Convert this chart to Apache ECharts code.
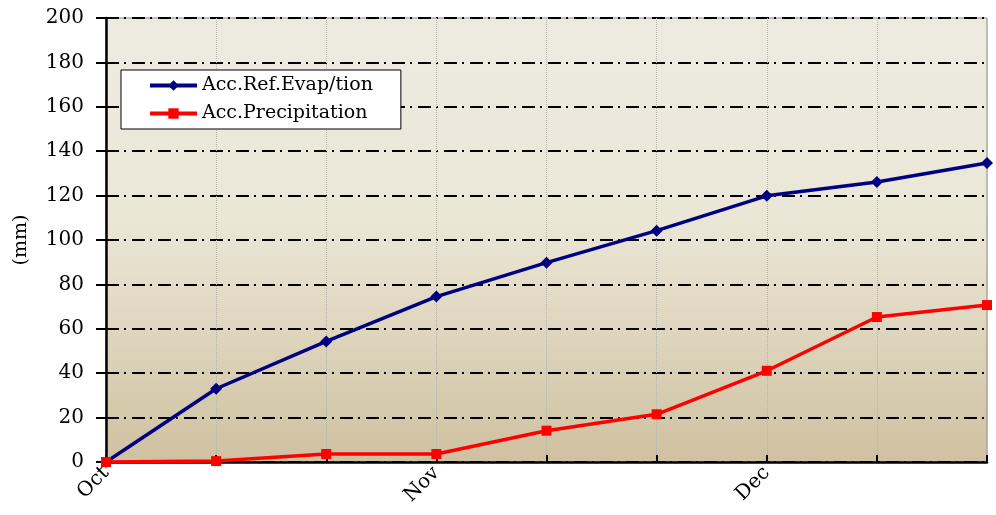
<!DOCTYPE html>
<html><head><meta charset="utf-8">
<script src="https://cdn.jsdelivr.net/npm/echarts@6/dist/echarts.min.js"></script>
<style>html,body{margin:0;padding:0;background:#fff}#c{width:996px;height:515px}</style>
</head><body><div id="c"></div>
<script>
const categories = ['Oct','','','Nov','','','Dec','',''];
const evap = [0, 33, 54.3, 74.5, 89.8, 104.2, 119.9, 126.1, 134.7];
const precip = [0, 0.4, 3.6, 3.6, 14.1, 21.5, 41.1, 65.3, 70.7];
const yTicks = {min: 0, max: 200, interval: 20};
const seriesNames = ['Acc.Ref.Evap/tion', 'Acc.Precipitation'];
const FONT = 'DejaVu Serif';

const chart = echarts.init(document.getElementById('c'));
chart.setOption({
  animation: false,
  textStyle: {fontFamily: FONT},
  grid: {
    left: 106, right: 9, top: 18, bottom: 53,
    show: true,
    borderColor: '#8a8a8a', borderWidth: 1,
    backgroundColor: new echarts.graphic.LinearGradient(0, 0, 0, 1, [
      {offset: 0, color: '#edebe1'},
      {offset: 0.45, color: '#ebe7d7'},
      {offset: 1, color: '#cfc1a0'}
    ])
  },
  legend: {
    orient: 'vertical',
    left: 121, top: 70,
    backgroundColor: '#fff',
    borderColor: '#000', borderWidth: 1,
    padding: [6, 28, 6, 27],
    itemGap: 9,
    itemWidth: 47, itemHeight: 13,
    lineStyle: {width: 4},
    textStyle: {fontFamily: FONT, fontSize: 19, color: '#000'},
    data: seriesNames
  },
  xAxis: {
    type: 'category',
    data: categories,
    boundaryGap: false,
    axisLine: {lineStyle: {color: '#000', width: 2.5}},
    axisTick: {show: true, inside: true, length: 7, interval: 0, lineStyle: {color: '#000', width: 2}},
    axisLabel: {interval: 0, rotate: 45, fontSize: 20, color: '#000', fontFamily: FONT, margin: 8},
    splitLine: {show: true, interval: 0, lineStyle: {color: '#b5b2a6', type: 'dotted', width: 1}}
  },
  yAxis: {
    type: 'value',
    min: yTicks.min, max: yTicks.max, interval: yTicks.interval,
    name: '(mm)',
    nameLocation: 'middle',
    nameGap: 75,
    nameTextStyle: {fontSize: 19, color: '#000', fontFamily: FONT},
    axisLine: {show: true, lineStyle: {color: '#000', width: 2.5}},
    axisTick: {show: true, length: 10, lineStyle: {color: '#000', width: 2}},
    axisLabel: {fontSize: 20, color: '#000', fontFamily: FONT, margin: 22},
    splitLine: {show: true, lineStyle: {color: '#000', width: 2, type: [13, 5, 2, 6]}}
  },
  series: [
    {
      name: seriesNames[0], type: 'line', data: evap,
      symbol: 'diamond', symbolSize: 12,
      lineStyle: {color: '#000080', width: 3.5},
      itemStyle: {color: '#000080'}
    },
    {
      name: seriesNames[1], type: 'line', data: precip,
      symbol: 'rect', symbolSize: 10,
      lineStyle: {color: '#ff0000', width: 3.5},
      itemStyle: {color: '#ff0000'}
    }
  ]
});
</script></body></html>
